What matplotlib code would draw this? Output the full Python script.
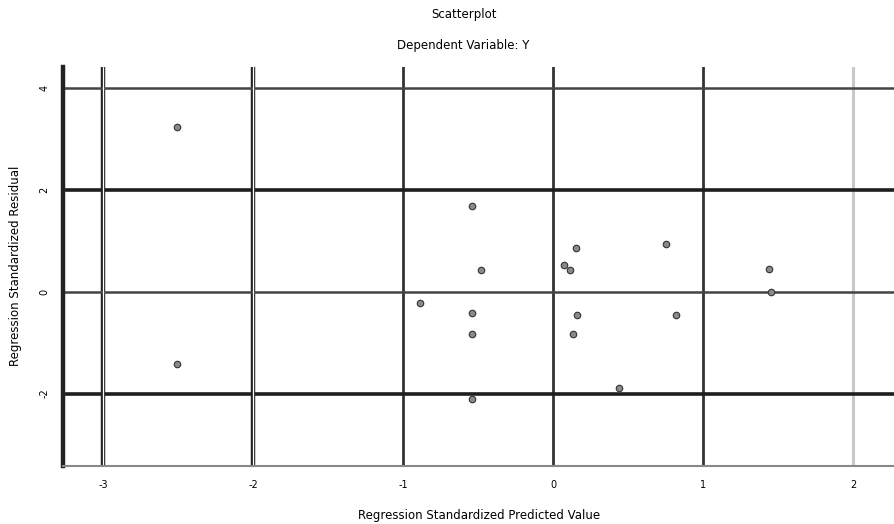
import matplotlib
matplotlib.use("Agg")
import matplotlib.pyplot as plt

# standardized predicted values (x) and standardized residuals (y)
pred = [-2.51, -2.51, -0.54, -0.48, -0.89, -0.54, -0.54, -0.54,
        0.15, 0.07, 0.11, 0.16, 0.13, 0.44, 0.75, 0.82, 1.44, 1.45]
resid = [3.24, -1.42, 1.68, 0.43, -0.23, -0.41, -0.84, -2.10,
         0.86, 0.52, 0.42, -0.45, -0.83, -1.90, 0.93, -0.45, 0.44, 0.0]

xticks = [-3, -2, -1, 0, 1, 2]
yticks = [4, 2, 0, -2]

fig = plt.figure(figsize=(8.95, 5.24), dpi=100)
ax = fig.add_axes([0.0704, 0.111, 0.9296, 0.762])

ax.set_xlim(-3.27, 2.28)
ax.set_ylim(-3.42, 4.42)

# grid lines, SPSS style
for x in xticks:
    if x == 2:
        ax.axvline(x, color="#c8c8c8", lw=2.2, zorder=1)
    elif x in (-3, -2):
        ax.axvline(x, color="#222222", lw=3.2, zorder=1)
        ax.axvline(x, color="white", lw=0.9, zorder=1.1)
    else:
        ax.axvline(x, color="#333333", lw=2.0, zorder=1)
for y in yticks:
    if y in (2, -2):
        ax.axhline(y, color="#1e1e1e", lw=2.6, zorder=1)
    else:
        ax.axhline(y, color="#444444", lw=1.8, zorder=1)

ax.scatter(pred, resid, s=22, c="#8a8a8a", edgecolors="#333333",
           linewidths=0.8, zorder=3)

for s in ["top", "right"]:
    ax.spines[s].set_visible(False)
ax.spines["left"].set_linewidth(3.2)
ax.spines["left"].set_color("#222222")
ax.axvline(-3.27 + 0.004, color="white", lw=0.8, zorder=2)
ax.spines["bottom"].set_color("#888888")
ax.spines["bottom"].set_linewidth(1.5)

ax.set_xticks(xticks)
ax.set_yticks(yticks)
ax.set_xticklabels([str(t) for t in xticks], fontsize=7)
ax.set_yticklabels([str(t) for t in yticks], fontsize=7, rotation=90, va="center")
ax.tick_params(length=0, pad=10)

ax.set_xlabel("Regression Standardized Predicted Value", fontsize=8.5, labelpad=14)
ax.set_ylabel("Regression Standardized Residual", fontsize=8.5, labelpad=12)

fig.text(0.518, 0.972, "Scatterplot", ha="center", va="center", fontsize=8.5)
fig.text(0.518, 0.914, "Dependent Variable: Y", ha="center", va="center", fontsize=8.5)

fig.savefig("out.png", dpi=100)
